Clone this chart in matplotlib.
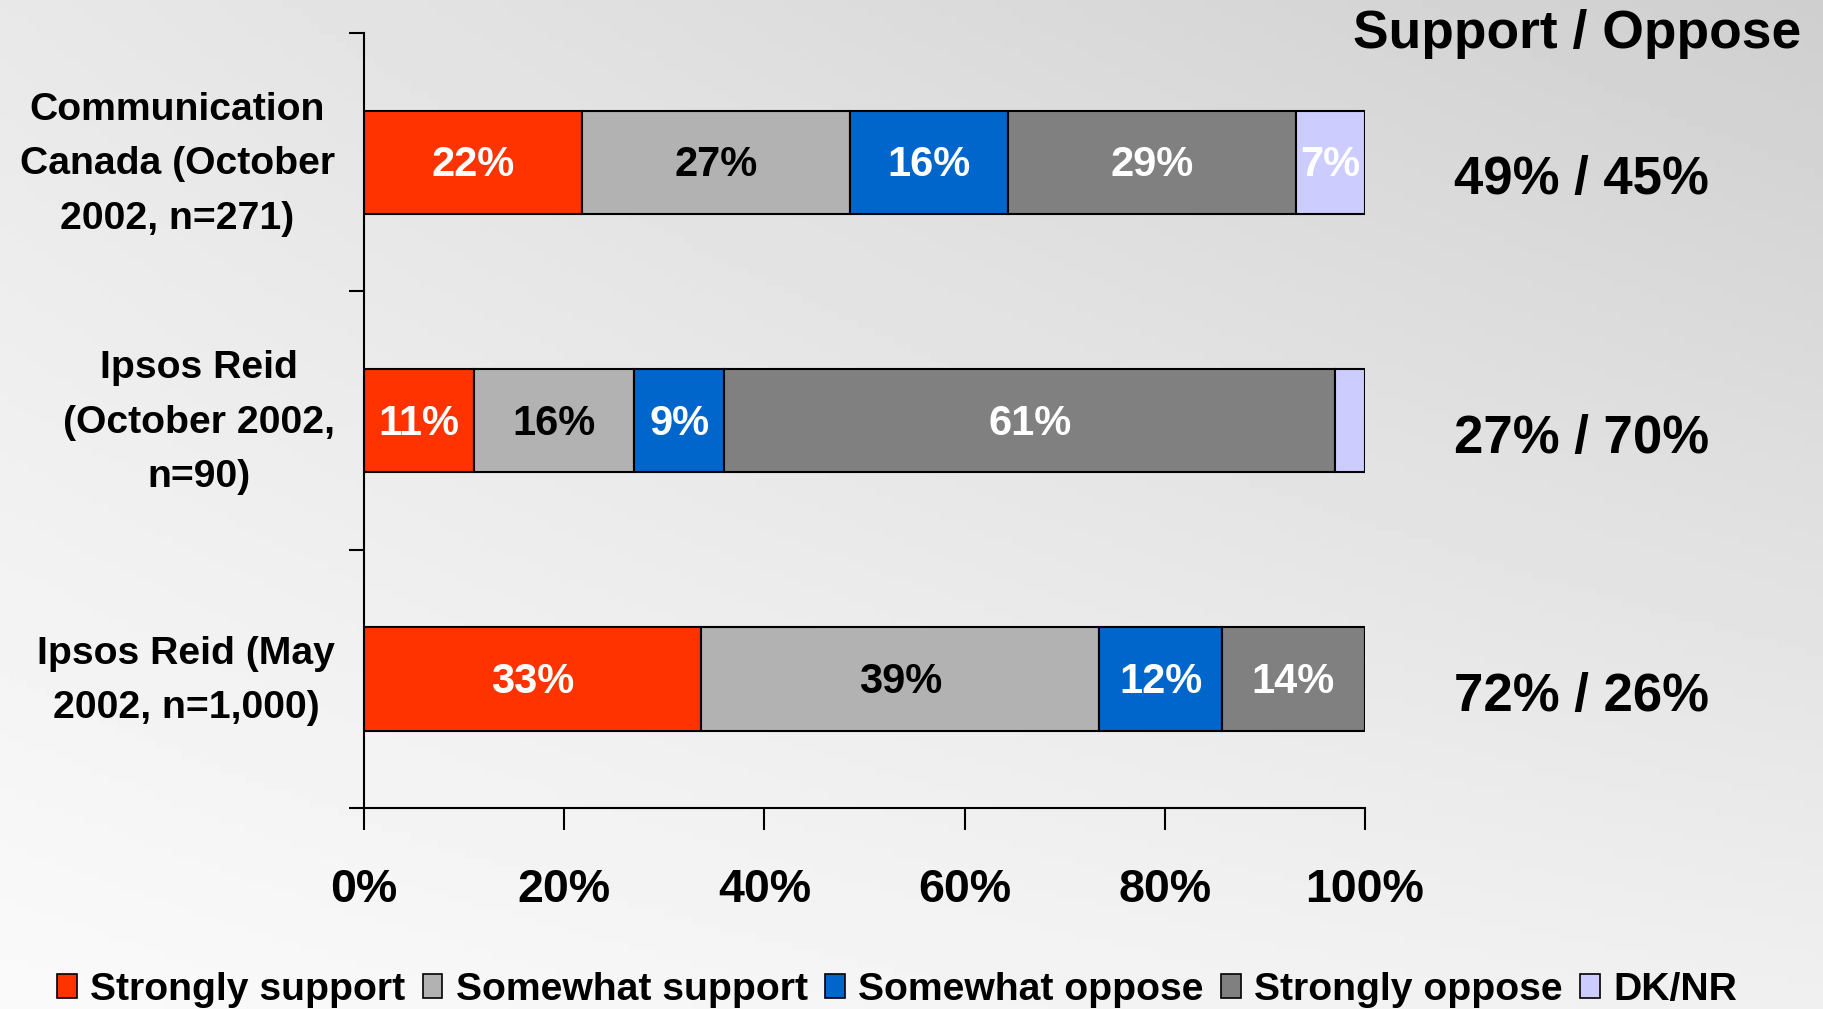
import numpy as np
import matplotlib
matplotlib.use('Agg')
import matplotlib.pyplot as plt
from matplotlib.patches import Patch

plt.rcParams['font.family'] = ['Liberation Sans', 'DejaVu Sans']
plt.rcParams['font.weight'] = 'bold'

# data
polls = ['Communication\nCanada (October\n2002, n=271)',
         'Ipsos Reid\n(October 2002,\nn=90)',
         'Ipsos Reid (May\n2002, n=1,000)']
answers = ['Strongly support', 'Somewhat support', 'Somewhat oppose',
           'Strongly oppose', 'DK/NR']
strongly_support = [22, 11, 33]
somewhat_support = [27, 16, 39]
somewhat_oppose = [16, 9, 12]
strongly_oppose = [29, 61, 14]
dk_nr = [7, 3, 0]
support_oppose = ['49% / 45%', '27% / 70%', '72% / 26%']
xticks = [0, 20, 40, 60, 80, 100]

colors = ['#FF3300', '#B2B2B2', '#0066CC', '#808080', '#CCCCFF']
text_colors = ['white', 'black', 'white', 'white', 'white']

W, H = 1823, 1009
fig = plt.figure(figsize=(W/100., H/100.), dpi=100)

# soft grey backdrop
bg = fig.add_axes([0, 0, 1, 1], zorder=-10)
gx, gy = np.meshgrid(np.linspace(0, 1, 200), np.linspace(0, 1, 120))
shade = 0.94 - 0.10*gx*gy - 0.03*gy + 0.04*(1-gx)*(1-gy)
bg.imshow(shade, cmap='gray', vmin=0, vmax=1, origin='lower',
          extent=[0, 1, 0, 1], aspect='auto')
bg.axis('off')

ax = fig.add_axes([364/W, 1-808/H, 1001/W, 775/H])
ax.patch.set_alpha(0)

values = np.array([strongly_support, somewhat_support, somewhat_oppose,
                   strongly_oppose, dk_nr], dtype=float)
shares = values/values.sum(axis=0)*100.  # 100% stacked
ypos = np.arange(len(polls))
left = np.zeros(len(polls))
for k in range(len(answers)):
    ax.barh(ypos, shares[k], left=left, height=0.4, color=colors[k],
            edgecolor='black', linewidth=1.5, label=answers[k])
    for i in range(len(polls)):
        if values[k, i] >= 5:
            ax.text(left[i]+shares[k, i]/2., ypos[i]+0.012,
                    '%d%%' % values[k, i], ha='center', va='center',
                    fontsize=30, color=text_colors[k])
    left += shares[k]

for i in range(len(polls)):
    ax.text(121.6, ypos[i]+0.07, support_oppose[i], ha='center',
            va='center', fontsize=38, clip_on=False)

ax.set_xlim(0, 100)
ax.set_ylim(2.5, -0.5)
ax.set_xticks(xticks)
ax.set_xticklabels(['%d%%' % t for t in xticks], fontsize=33.5)
ax.tick_params(axis='x', length=16, width=1.5, pad=27)
ax.set_yticks([-0.5, 0.5, 1.5, 2.5])
ax.set_yticklabels([])
# category names sit a touch above the bar centres
ax.set_yticks(ypos - 0.043, polls, minor=True, fontsize=28.2, ma='center',
              linespacing=1.66)
ax.tick_params(axis='y', which='major', length=11, width=1.5)
ax.tick_params(axis='y', which='minor', length=0, pad=21)
for s in ['top', 'right']:
    ax.spines[s].set_visible(False)
for s in ['left', 'bottom']:
    ax.spines[s].set_linewidth(1.5)

fig.text(1577/W, 1-34/H, 'Support / Oppose', ha='center', va='center',
         fontsize=38.4)

handles = [Patch(facecolor=colors[k], edgecolor='black', linewidth=1.2)
           for k in range(len(answers))]
fig.legend(handles, answers, loc='center left',
           bbox_to_anchor=(57/W, 1-990/H), ncol=5, frameon=False,
           fontsize=28.2, handlelength=0.5, handleheight=0.55,
           handletextpad=0.35, columnspacing=0.44, borderpad=0,
           borderaxespad=0)

fig.savefig('out.png', dpi=100)
